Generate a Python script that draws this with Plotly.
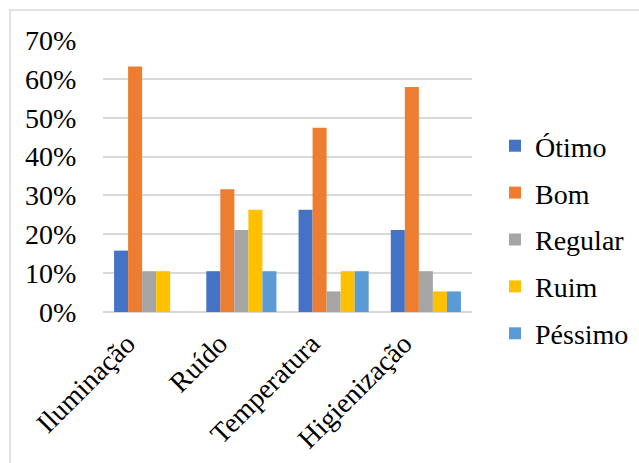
import plotly.graph_objects as go

categories = ["Iluminação", "Ruído", "Temperatura", "Higienização"]
series_names = ["Ótimo", "Bom", "Regular", "Ruim", "Péssimo"]
otimo = [0.158, 0.105, 0.263, 0.211]
bom = [0.632, 0.316, 0.474, 0.579]
regular = [0.105, 0.211, 0.053, 0.105]
ruim = [0.105, 0.263, 0.105, 0.053]
pessimo = [0.0, 0.105, 0.105, 0.053]
colors = ["#4472C4", "#ED7D31", "#A5A5A5", "#FFC000", "#5B9BD5"]
tick_vals = [0, 0.1, 0.2, 0.3, 0.4, 0.5, 0.6, 0.7]

W, H = 639, 463
L, R, T, B = 103, 167, 40, 151
pw, ph = W - L - R, H - T - B

fig = go.Figure()
for i, (name, vals) in enumerate(zip(series_names, [otimo, bom, regular, ruim, pessimo])):
    fig.add_trace(go.Bar(x=categories, y=vals, name=name, marker_color=colors[i],
                         marker_line_width=0, legendgroup=name))

def px2x(p):
    return (p - L) / pw

def px2y(p):
    return 1 - (p - T) / ph

fig.add_shape(type="rect", xref="paper", yref="paper",
              x0=px2x(10), x1=px2x(650), y0=px2y(475), y1=px2y(10),
              line=dict(color="#d9d9d9", width=1.5), layer="below")

fig.update_layout(
    width=W, height=H,
    margin=dict(l=L, r=R, t=T, b=B, autoexpand=False),
    paper_bgcolor="white", plot_bgcolor="white",
    barmode="group", bargap=0.24, bargroupgap=0,
    font=dict(family="Liberation Serif", size=28, color="#000000"),
    showlegend=True,
    legend=dict(x=px2x(495), xanchor="left", y=px2y(121), yanchor="top",
                font=dict(family="Liberation Serif", size=28, color="#000000"),
                traceorder="grouped", tracegroupgap=7.5),
    xaxis=dict(tickangle=-45, showgrid=False, showline=False,
               ticks="outside", ticklen=3, tickcolor="rgba(0,0,0,0)",
               ticklabelshift=-22,
               tickfont=dict(family="Liberation Serif", size=28, color="#000000")),
    yaxis=dict(range=[0, 0.7], tickvals=tick_vals, tickformat=".0%",
               showgrid=True, gridcolor="#d9d9d9", gridwidth=1.5,
               zeroline=True, zerolinecolor="#d9d9d9", zerolinewidth=1.5,
               showline=False, ticks="outside", ticklen=20, tickcolor="rgba(0,0,0,0)",
               tickfont=dict(family="Liberation Serif", size=28, color="#000000")),
)

fig.write_html("out.html")
